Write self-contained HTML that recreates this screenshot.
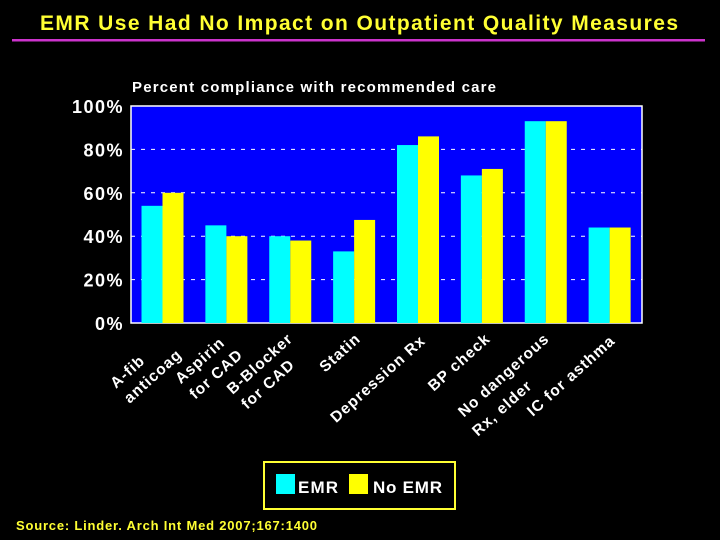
<!DOCTYPE html>
<html><head><meta charset="utf-8"><style>
html,body{margin:0;padding:0;background:#000;}
svg{display:block;}
text{font-family:"Liberation Sans",Arial,sans-serif;font-weight:bold;}
</style></head><body>
<svg id="chart" width="720" height="540" viewBox="0 0 720 540">
<rect x="0" y="0" width="720" height="540" fill="#000"/>
<text x="40" y="30" font-size="21" fill="#ffff33" textLength="638">EMR Use Had No Impact on Outpatient Quality Measures</text>
<rect x="12" y="39" width="693" height="2.5" fill="#cc33cc"/>
<text x="132" y="92" font-size="15" fill="#fff" textLength="364">Percent compliance with recommended care</text>
<g id="plot"></g>
<rect x="264" y="462" width="191" height="47" fill="none" stroke="#ffff33" stroke-width="2"/>
<rect x="276" y="474" width="19" height="20" fill="#00ffff"/>
<text x="298" y="493" font-size="17" fill="#fff" textLength="40">EMR</text>
<rect x="349" y="474" width="19" height="20" fill="#ffff00"/>
<text x="373" y="493" font-size="17" fill="#fff" textLength="69">No EMR</text>
<text x="16" y="530" font-size="13" fill="#ffff33" textLength="301">Source: Linder. Arch Int Med 2007;167:1400</text>
</svg>
<script>
const categories = [["A-fib","anticoag"],["Aspirin","for CAD"],["B-Blocker","for CAD"],["Statin"],["Depression Rx"],["BP check"],["No dangerous","Rx, elder"],["IC for asthma"]];
const emrValues = [54, 45, 40, 33, 82, 68, 93, 44];
const noEmrValues = [60, 40, 38, 47.5, 86, 71, 93, 44];
const yTicks = [0, 20, 40, 60, 80, 100];
const yTickLabels = ["0%","20%","40%","60%","80%","100%"];
// layout (not data): per-line label end offsets relative to group center
const labelOffsets = [[[-17,362],[20,356]],[[-1,344],[17,356]],[[3,340],[5,366]],[[7,340]],[[8,342]],[[9,340]],[[4,340],[-13,387]],[[6,342]]];

const NS = "http://www.w3.org/2000/svg";
const plot = document.getElementById("plot");
const X0 = 131, X1 = 642, Y0 = 106, Y1 = 323;
const groupW = (X1 - X0) / categories.length;
const barW = 21, barOff = 10.5;
function yScale(v){ return Y1 - (v/100)*(Y1 - Y0); }
function xGroup(i){ return X0 + i*groupW; }
function mk(tag, attrs){ const e = document.createElementNS(NS, tag); for (const k in attrs) e.setAttribute(k, attrs[k]); plot.appendChild(e); return e; }

let bg = mk("rect",{x:X0,y:Y0,width:X1-X0,height:Y1-Y0,fill:"#0000ff",stroke:"#fff","stroke-width":1.5});



yTicks.forEach((t, i) => {
  if (t > 0 && t < 100) {
    const g = mk("line",{x1:X0,x2:X1,y1:yScale(t),y2:yScale(t),stroke:"#fff","stroke-width":1,"stroke-dasharray":"4,6"});
    
    
  }
  const lb = mk("text",{x:124,y:yScale(t)+7,"text-anchor":"end","font-size":18,fill:"#fff","letter-spacing":1.5});
  lb.textContent = yTickLabels[i];
  
  
});

categories.forEach((cat, i) => {
  const gx = xGroup(i);
  const b1 = mk("rect",{x:gx+barOff,y:yScale(emrValues[i]),width:barW,height:Y1-yScale(emrValues[i]),fill:"#00ffff"});
  
  
  const b2 = mk("rect",{x:gx+barOff+barW,y:yScale(noEmrValues[i]),width:barW,height:Y1-yScale(noEmrValues[i]),fill:"#ffff00"});
  
  
  const cx = gx + groupW/2;
  cat.forEach((line, j) => {
    const off = labelOffsets[i][j];
    const tx = cx + off[0], ty = off[1];
    const t = mk("text",{x:tx,y:ty,"text-anchor":"end","font-size":15.5,"letter-spacing":1,fill:"#fff",transform:`rotate(-42 ${tx} ${ty})`});
    t.textContent = line;
    
    
  });
});
</script>
</body></html>
